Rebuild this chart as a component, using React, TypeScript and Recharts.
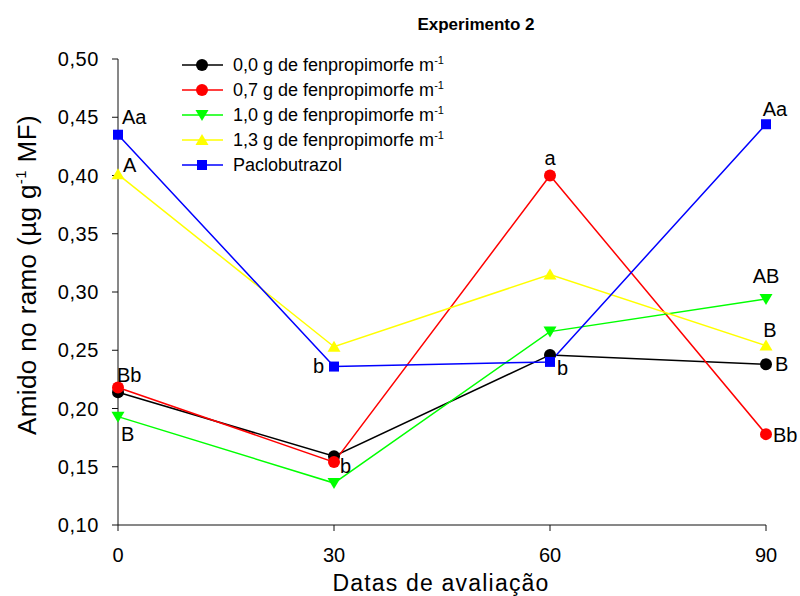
import { Legend, Line, LineChart, XAxis, YAxis } from "recharts";

// Datas de avaliação (dias)
const days = [0, 30, 60, 90];

// Amido no ramo (µg g-1 MF) por tratamento
const dose00 = [0.214, 0.159, 0.246, 0.238];
const dose07 = [0.218, 0.154, 0.4, 0.178];
const dose10 = [0.193, 0.136, 0.266, 0.294];
const dose13 = [0.401, 0.253, 0.315, 0.254];
const paclo = [0.435, 0.236, 0.24, 0.444];

// letras de comparação de médias
const letters00 = ["", "", "", "B"];
const letters07 = ["Bb", "b", "a", "Bb"];
const letters10 = ["B", "", "", "AB"];
const letters13 = ["A", "", "", "B"];
const lettersPaclo = ["Aa", "b", "b", "Aa"];

const xTicks = [0, 30, 60, 90];
const yTicks = [0.1, 0.15, 0.2, 0.25, 0.3, 0.35, 0.4, 0.45, 0.5];

const FONT = "'Liberation Sans', Arial, sans-serif";

type Shape = "circle" | "down" | "up" | "square";
type Anchor = "start" | "middle" | "end";

interface Serie {
	key: string;
	name: string;
	sup: boolean;
	color: string;
	shape: Shape;
	values: number[];
	letters: string[];
	// posição das letras em relação ao ponto: [dx, dy, âncora]
	pos: [number, number, Anchor][];
}

const series: Serie[] = [
	{
		key: "d00",
		name: "0,0 g de fenpropimorfe m",
		sup: true,
		color: "#000000",
		shape: "circle",
		values: dose00,
		letters: letters00,
		pos: [[0, 0, "start"], [0, 0, "start"], [0, 0, "start"], [9, 7, "start"]],
	},
	{
		key: "d07",
		name: "0,7 g de fenpropimorfe m",
		sup: true,
		color: "#ff0000",
		shape: "circle",
		values: dose07,
		letters: letters07,
		pos: [[-1, -6, "start"], [6, 11, "start"], [0, -11, "middle"], [7, 8, "start"]],
	},
	{
		key: "d10",
		name: "1,0 g de fenpropimorfe m",
		sup: true,
		color: "#00ff00",
		shape: "down",
		values: dose10,
		letters: letters10,
		pos: [[3, 24, "start"], [0, 0, "start"], [0, 0, "start"], [0, -16, "middle"]],
	},
	{
		key: "d13",
		name: "1,3 g de fenpropimorfe m",
		sup: true,
		color: "#ffff00",
		shape: "up",
		values: dose13,
		letters: letters13,
		pos: [[5, -2, "start"], [0, 0, "start"], [0, 0, "start"], [4, -9, "middle"]],
	},
	{
		key: "paclo",
		name: "Paclobutrazol",
		sup: false,
		color: "#0000ff",
		shape: "square",
		values: paclo,
		letters: lettersPaclo,
		pos: [[4, -11, "start"], [-10, 6, "end"], [7, 13, "start"], [9, -8, "middle"]],
	},
];

const chartData = days.map((day, i) => {
	const row: Record<string, number> = { day };
	series.forEach((s) => {
		row[s.key] = s.values[i];
	});
	return row;
});

function Marker({ shape, x, y, color }: { shape: Shape; x: number; y: number; color: string }) {
	if (shape === "circle") {
		return <circle cx={x} cy={y} r={6} fill={color} />;
	}
	if (shape === "square") {
		return <rect x={x - 5} y={y - 5} width={10} height={10} fill={color} />;
	}
	if (shape === "down") {
		return <polygon points={`${x - 6.5},${y - 5} ${x + 6.5},${y - 5} ${x},${y + 6}`} fill={color} />;
	}
	return <polygon points={`${x - 6.5},${y + 5} ${x + 6.5},${y + 5} ${x},${y - 6}`} fill={color} />;
}

const makeDot = (s: Serie) => (props: any) => {
	const { cx, cy, index } = props;
	const letter = s.letters[index];
	const [dx, dy, anchor] = s.pos[index];
	return (
		<g key={`${s.key}-${index}`}>
			<Marker shape={s.shape} x={cx} y={cy} color={s.color} />
			{letter ? (
				<text x={cx + dx} y={cy + dy} textAnchor={anchor} fontSize={20} fontFamily={FONT} fill="#000">
					{letter}
				</text>
			) : null}
		</g>
	);
};

function LegendBox() {
	return (
		<div style={{ fontFamily: FONT, fontSize: 18, color: "#000" }}>
			{series.map((s) => (
				<div key={s.key} style={{ display: "flex", alignItems: "center", height: 25.2 }}>
					<svg width={44} height={20} style={{ marginRight: 9, flex: "none" }}>
						<line x1={2} y1={10} x2={43} y2={10} stroke={s.color} strokeWidth={1.5} />
						<Marker shape={s.shape} x={22} y={10} color={s.color} />
					</svg>
					<span style={{ whiteSpace: "nowrap" }}>
						{s.name}
						{s.sup ? <sup style={{ fontSize: 11, verticalAlign: 7 }}>-1</sup> : null}
					</span>
				</div>
			))}
		</div>
	);
}

export default function App() {
	return (
		<div style={{ position: "absolute", left: 0, top: 0, width: 800, height: 596, background: "#fff" }}>
			<LineChart
				width={800}
				height={596}
				data={chartData}
				margin={{ top: 59, right: 34, left: 58, bottom: 31 }}
			>
				<XAxis
					type="number"
					dataKey="day"
					domain={[0, 90]}
					ticks={xTicks}
					height={40}
					tickSize={6}
					tickMargin={17}
					stroke="#111"
					tick={{ fill: "#000", fontSize: 20, fontFamily: FONT }}
				/>
				<YAxis
					type="number"
					domain={[0.1, 0.5]}
					ticks={yTicks}
					width={60}
					tickSize={6}
					tickMargin={13}
					stroke="#111"
					tick={{ fill: "#000", fontSize: 20, fontFamily: FONT, letterSpacing: 0.6 }}
					tickFormatter={(v: number) => v.toFixed(2).replace(".", ",")}
				/>
				<Legend
					layout="vertical"
					align="center"
					verticalAlign="middle"
					wrapperStyle={{ left: 180, top: 52, width: 320, height: 130 }}
					content={() => <LegendBox />}
				/>
				{series.map((s) => (
					<Line
						key={s.key}
						type="linear"
						dataKey={s.key}
						name={s.name}
						stroke={s.color}
						strokeWidth={1.5}
						dot={makeDot(s)}
						activeDot={false}
						isAnimationActive={false}
					/>
				))}
				<text x={476} y={30} textAnchor="middle" fontSize={17} fontWeight="bold" fontFamily={FONT}>
					Experimento 2
				</text>
				<text x={441} y={591} textAnchor="middle" fontSize={23} fontFamily={FONT} letterSpacing={1.2}>
					Datas de avaliação
				</text>
				<text
					x={36}
					y={275}
					textAnchor="middle"
					fontSize={26}
					fontFamily={FONT}
					letterSpacing={0.4}
					transform="rotate(-90, 36, 275)"
				>
					Amido no ramo (µg g
					<tspan dy={-10} fontSize={15}>-1</tspan>
					<tspan dy={10}> MF)</tspan>
				</text>
			</LineChart>
		</div>
	);
}
